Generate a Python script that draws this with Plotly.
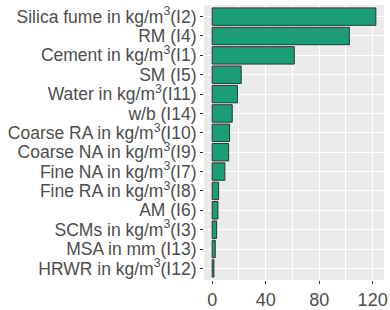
import plotly.graph_objects as go

categories = [
    "Silica fume in kg/m<sup>3</sup>(I2)",
    "RM (I4)",
    "Cement in kg/m<sup>3</sup>(I1)",
    "SM (I5)",
    "Water in kg/m<sup>3</sup>(I11)",
    "w/b (I14)",
    "Coarse RA in kg/m<sup>3</sup>(I10)",
    "Coarse NA in kg/m<sup>3</sup>(I9)",
    "Fine NA in kg/m<sup>3</sup>(I7)",
    "Fine RA in kg/m<sup>3</sup>(I8)",
    "AM (I6)",
    "SCMs in kg/m<sup>3</sup>(I3)",
    "MSA in mm (I13)",
    "HRWR in kg/m<sup>3</sup>(I12)",
]
values = [122.4, 102.6, 61.4, 21.7, 19.0, 15.0, 13.0, 12.3, 9.5, 4.8, 4.3, 3.3, 2.3, 1.3]
x_ticks = [0, 40, 80, 120]

cats_bt = categories[::-1]
vals_bt = values[::-1]

fig = go.Figure(go.Bar(
    x=vals_bt, y=cats_bt, orientation="h", width=0.9,
    marker=dict(color="#1B9E77", line=dict(color="#333333", width=1)),
))

fig.update_layout(
    width=390, height=310,
    margin=dict(l=204, r=6, t=5, b=30),
    paper_bgcolor="white", plot_bgcolor="#EBEBEB",
    showlegend=False,
    font=dict(family="Liberation Sans, Arial", size=17.5, color="#4D4D4D"),
)
fig.update_xaxes(
    range=[-6.12, 128.5], tickvals=x_ticks, ticktext=[str(t) for t in x_ticks],
    showgrid=True, gridcolor="white", gridwidth=1.1, zeroline=False,
    ticks="outside", ticklen=3, tickcolor="#333333", tickwidth=1,
    minor=dict(tickvals=[20, 60, 100], showgrid=True, gridcolor="white", gridwidth=0.5, ticks=""),
    tickfont=dict(size=18, color="#4D4D4D"), automargin=False,
)
fig.update_yaxes(
    categoryorder="array", categoryarray=cats_bt, range=[-0.6, 13.6],
    tickmode="array", tickvals=cats_bt, ticktext=cats_bt,
    showgrid=True, gridcolor="white", gridwidth=1.1, zeroline=False,
    ticks="outside", ticklen=3, tickcolor="#333333", tickwidth=1,
    tickfont=dict(size=17.5, color="#4D4D4D"), automargin=False,
)

fig.write_html("out.html")
